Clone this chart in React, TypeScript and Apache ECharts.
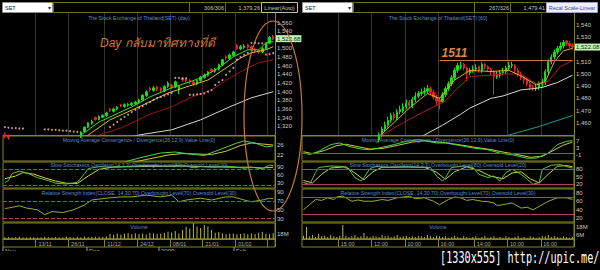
import React, { useEffect, useRef } from "react";
import * as echarts from "echarts";

// ---------------- data ----------------
// Left chart: daily bars [open, close, low, high]
const leftCandles = [
  [1302, 1296, 1292, 1306], [1298, 1293, 1289, 1301], [1295, 1289, 1285, 1299], [1289, 1292, 1286, 1296],
  [1292, 1287, 1283, 1295], [1288, 1284, 1280, 1291], [1284, 1280, 1276, 1287], [1280, 1276, 1271, 1284],
  [1277, 1281, 1273, 1285], [1281, 1275, 1270, 1283], [1275, 1270, 1266, 1278], [1270, 1274, 1266, 1278],
  [1274, 1268, 1264, 1277], [1268, 1264, 1260, 1271], [1264, 1269, 1261, 1273], [1269, 1265, 1261, 1272],
  [1265, 1270, 1262, 1274], [1270, 1276, 1267, 1279], [1276, 1281, 1273, 1284], [1281, 1287, 1278, 1290],
  [1287, 1294, 1284, 1297], [1295, 1307, 1293, 1309], [1308, 1318, 1305, 1320], [1318, 1328, 1316, 1330],
  [1327, 1332, 1324, 1335], [1340, 1336, 1333, 1343], [1336, 1342, 1334, 1345], [1341, 1345, 1339, 1348],
  [1345, 1351, 1342, 1354], [1360, 1356, 1353, 1362], [1355, 1360, 1352, 1363], [1360, 1364, 1357, 1367],
  [1370, 1367, 1364, 1372], [1366, 1370, 1363, 1373], [1368, 1371, 1365, 1374], [1370, 1373, 1367, 1376],
  [1372, 1376, 1369, 1379], [1375, 1381, 1372, 1384], [1381, 1392, 1379, 1394], [1391, 1400, 1388, 1403],
  [1408, 1404, 1400, 1411], [1403, 1409, 1400, 1413], [1411, 1406, 1402, 1414], [1408, 1402, 1398, 1410],
  [1402, 1412, 1399, 1415], [1412, 1420, 1409, 1424], [1416, 1410, 1406, 1418], [1411, 1423, 1408, 1426],
  [1405, 1412, 1395, 1415], [1431, 1427, 1423, 1434], [1429, 1425, 1421, 1432], [1426, 1422, 1418, 1429],
  [1423, 1418, 1414, 1426], [1418, 1426, 1415, 1428], [1426, 1434, 1423, 1436], [1433, 1439, 1430, 1442],
  [1438, 1446, 1435, 1448], [1452, 1448, 1444, 1454], [1447, 1452, 1444, 1455], [1452, 1462, 1449, 1465],
  [1462, 1474, 1459, 1476], [1481, 1478, 1474, 1484], [1477, 1485, 1474, 1488], [1484, 1492, 1481, 1495],
  [1507, 1500, 1497, 1510], [1499, 1504, 1496, 1508], [1502, 1506, 1499, 1510], [1508, 1503, 1499, 1511],
  [1504, 1498, 1494, 1507], [1499, 1494, 1490, 1502], [1496, 1492, 1488, 1499], [1492, 1500, 1489, 1503],
  [1500, 1512, 1497, 1514], [1512, 1526, 1510, 1529], [1528, 1522.68, 1519, 1531],
];
const leftLast = 1522.68;
const leftMaGreen = [[19, 1290], [21, 1300], [26, 1330], [35, 1365], [40, 1388], [46, 1409], [51, 1423], [54, 1432], [59, 1455], [63, 1481], [67, 1497], [70, 1497], [72, 1513], [74, 1516]];
const leftMaYellow = [[20, 1285], [23, 1300], [29, 1335], [37, 1365], [45, 1397], [50, 1411], [56, 1427], [61, 1455], [65, 1478], [68, 1490], [72, 1497], [74, 1504]];
const leftMaRed = [[20, 1282], [26, 1300], [32, 1316], [40, 1348], [46, 1365], [51, 1386], [57, 1404], [62, 1432], [67, 1455], [70, 1467], [74, 1474]];
const leftMaWhite = [[28, 1280], [37, 1300], [46, 1312], [54, 1335], [62, 1365], [68, 1386], [74, 1400]];
const leftSar = [
  [0, 1318], [1, 1317], [2, 1316], [3, 1316], [4, 1315], [5, 1315],
  [11, 1313], [12, 1313], [13, 1312], [14, 1312], [15, 1311], [16, 1310], [17, 1310], [18, 1309], [19, 1308], [20, 1307],
  [29, 1318], [30, 1324], [31, 1330], [32, 1336], [33, 1342], [34, 1347], [35, 1353], [36, 1358], [37, 1363], [38, 1367],
  [39, 1372], [40, 1376], [41, 1381], [42, 1385], [43, 1388], [44, 1391], [45, 1394], [46, 1397],
  [47, 1432], [48, 1432], [49, 1431], [50, 1431],
  [51, 1393], [52, 1393], [53, 1394], [54, 1395], [55, 1396], [56, 1400], [57, 1404], [58, 1416], [59, 1422], [60, 1427],
  [61, 1439], [62, 1447], [63, 1455], [64, 1474], [65, 1480], [66, 1485], [67, 1490],
  [68, 1513], [69, 1513], [70, 1512], [71, 1512], [72, 1486], [73, 1487], [74, 1489],
];
const leftMacd = [[0, 8], [10, 11], [20, 14], [28, 17], [33, 19.2], [37, 20.8], [43, 22.8], [47, 23.2], [51, 22.4], [55, 21.8], [59, 24], [64, 26.8], [66, 27.6], [69, 26.8], [72, 25.2], [74, 25.6]];
const leftMacdSignal = [[0, 9], [10, 10.5], [20, 12.5], [28, 15.5], [35, 19.0], [40, 20.5], [45, 22.0], [49, 22.6], [53, 22.4], [57, 22.2], [61, 23.5], [65, 25.8], [68, 26.8], [71, 26.4], [74, 26.0]];
const leftStochK = [[0, 30], [1, 38], [2, 64], [4, 73], [6, 67], [9, 49], [12, 38], [14, 28], [17, 25], [20, 31], [22, 64], [23, 83], [26, 90], [30, 88], [35, 92], [40, 95], [45, 92], [49, 96], [52, 86], [54, 90], [58, 88], [60, 92], [63, 90], [66, 84], [68, 88], [71, 82], [73, 96], [74, 94]];
const leftStochD = [[0, 45], [3, 55], [5, 68], [8, 62], [11, 48], [14, 36], [17, 28], [20, 27], [23, 55], [26, 80], [30, 89], [40, 91], [50, 92], [56, 90], [62, 88], [68, 88], [71, 85], [74, 88]];
const leftRsi = [[0, 53], [1, 54], [4, 59], [6, 54], [9, 50], [11, 39], [13, 46], [16, 44], [19, 50], [22, 61], [24, 72], [28, 76], [32, 79], [35, 79], [39, 83], [43, 79], [46, 83], [48, 68], [50, 72], [54, 76], [57, 72], [61, 79], [63, 79], [66, 72], [68, 68], [71, 72], [73, 76], [74, 75]];
const leftVolume = [
  6, 7, 5, 6, 8, 6, 5, 7, 6, 5, 6, 8, 6, 5, 7, 6, 6, 8, 7, 6, 8, 6, 9, 7, 8, 8, 9, 7, 9,
  18, 16, 20, 15, 19, 22, 17, 21, 18, 20, 16, 22,
  20, 18, 19, 22, 26, 24, 29, 20, 33, 44, 38, 57, 45, 40, 51, 45, 33, 23, 25, 20, 17, 19, 20, 17, 18, 20, 17, 20, 18, 23, 26, 19, 17, 21,
];
const leftDateTicks: [number, string][] = [[9, "13/11"], [18, "26/11"], [28, "11/12"], [37, "24/12"], [46, "08/01"], [55, "21/01"], [64, "01/02"]];
const leftGridIdx = [9, 18, 28, 37, 46, 55, 64, 73];
const leftMonths = ["Nov", "Dec", "2009", "Feb"];

// Right chart: 60-minute bars [open, close, low, high]
const rightCandles = [
  [1430, 1428, 1426, 1432], [1428, 1426, 1423, 1430], [1426, 1424, 1421, 1428], [1424, 1427, 1422, 1429],
  [1427, 1430, 1425, 1432], [1430, 1433, 1428, 1435], [1433, 1436, 1431, 1438], [1436, 1435, 1433, 1438],
  [1435, 1437, 1433, 1439], [1437, 1440, 1435, 1442], [1440, 1441, 1438, 1443], [1441, 1439, 1437, 1443],
  [1439, 1437, 1435, 1441], [1437, 1436, 1434, 1439], [1436, 1434, 1431, 1438], [1434, 1433, 1430, 1436],
  [1433, 1435, 1431, 1437], [1435, 1438, 1433, 1440], [1438, 1437, 1435, 1440], [1437, 1436, 1434, 1439],
  [1436, 1439, 1434, 1441], [1439, 1441, 1437, 1443], [1441, 1443, 1439, 1445], [1443, 1444, 1441, 1446],
  [1444, 1447, 1442, 1448], [1446, 1450, 1444, 1452], [1450, 1455, 1448, 1457], [1455, 1458, 1453, 1461],
  [1458, 1462, 1456, 1465], [1462, 1466, 1460, 1468], [1467, 1464, 1462, 1469], [1464, 1469, 1462, 1471],
  [1469, 1471, 1467, 1474], [1470, 1473, 1468, 1476], [1473, 1476, 1471, 1479], [1477, 1474, 1472, 1479],
  [1474, 1479, 1472, 1481], [1479, 1482, 1477, 1485], [1482, 1484, 1480, 1486], [1484, 1485, 1482, 1488],
  [1485, 1486, 1483, 1489], [1486, 1488, 1484, 1491], [1488, 1485, 1483, 1490], [1485, 1481, 1479, 1487],
  [1481, 1478, 1474, 1483], [1479, 1477, 1471, 1481], [1477, 1483, 1476, 1485], [1483, 1488, 1481, 1490],
  [1488, 1492, 1486, 1494], [1492, 1497, 1490, 1499], [1497, 1503, 1495, 1505], [1503, 1507, 1501, 1509],
  [1506, 1507, 1504, 1510], [1508, 1505, 1503, 1509], [1505, 1501, 1494, 1506], [1501, 1503, 1499, 1505],
  [1503, 1504, 1501, 1507], [1504, 1505, 1502, 1508], [1506, 1503, 1501, 1507], [1503, 1508, 1501, 1510],
  [1508, 1506, 1504, 1509], [1506, 1504, 1502, 1507], [1504, 1502, 1499, 1505], [1502, 1498, 1483, 1503],
  [1498, 1499, 1496, 1502], [1499, 1501, 1497, 1503], [1501, 1502, 1499, 1505], [1502, 1505, 1500, 1507],
  [1505, 1507, 1503, 1510], [1507, 1507.5, 1505, 1510], [1507, 1503, 1501, 1508], [1503, 1500, 1498, 1505],
  [1500, 1497, 1495, 1502], [1497, 1495, 1492, 1499], [1495, 1492, 1490, 1497], [1492, 1489, 1487, 1494],
  [1489, 1488, 1486, 1491], [1488, 1489, 1486, 1492], [1489, 1492, 1487, 1494], [1492, 1493, 1489, 1496],
  [1493, 1502, 1491, 1504], [1502, 1510, 1500, 1512], [1510, 1514, 1508, 1516], [1514, 1518, 1512, 1520],
  [1518, 1521, 1516, 1523], [1521, 1523, 1519, 1526], [1523, 1526, 1521, 1528], [1527, 1525, 1523, 1528],
  [1525, 1523, 1521, 1527], [1523.5, 1522.08, 1520, 1525],
];
const rightLast = 1522.08;
const rightLevel = 1511;
const rightLevelFrom = 45;
const rightMaWhite = [[30, 1438], [40, 1450], [46, 1458], [52, 1467], [55, 1472], [62, 1480], [66, 1482], [72, 1487], [76, 1488], [79, 1489], [84, 1493], [89, 1499]];
const rightMaTeal = [[60, 1444], [68, 1450], [78, 1457], [89, 1466]];
const rightMaRed = [[18, 1435], [26, 1450], [33, 1460], [39, 1468], [43, 1473], [47, 1478], [50, 1486], [55, 1498], [62, 1499], [66, 1500], [72, 1500], [77, 1492], [81, 1494], [85, 1506], [89, 1511]];
const rightMaYellow = [[20, 1440], [26, 1451], [35, 1472], [41, 1484], [45, 1480], [50, 1495], [55, 1503], [62, 1502], [68, 1503], [73, 1497], [77, 1491], [80, 1494], [83, 1510], [86, 1519], [89, 1521]];
const rightMacd = [[0, 0.2], [2, -0.8], [5, 1.0], [9, 4.8], [12, 5.7], [15, 3.8], [19, 2.3], [22, 1.9], [25, 2.9], [30, 4.8], [34, 6.6], [38, 7.6], [41, 6.6], [44, 5.7], [47, 5.7], [52, 4.2], [56, 2.9], [61, 1.9], [65, 0.0], [69, -0.9], [74, -2.8], [77, -2.8], [81, 0], [84, 4.8], [87, 6.6], [89, 7.0]];
const rightMacdSignal = [[0, 0.8], [3, -0.3], [7, 1.5], [11, 4.2], [14, 5.0], [18, 3.6], [22, 2.3], [26, 2.6], [31, 4.3], [36, 6.2], [40, 7.0], [43, 6.5], [47, 5.8], [52, 4.6], [57, 3.2], [62, 2.0], [66, 0.6], [70, -0.5], [75, -2.3], [79, -1.8], [83, 1.8], [86, 4.5], [89, 6.2]];
const rightStochK = [[0, 27], [2, 19], [4, 67], [5, 87], [9, 93], [13, 91], [15, 80], [17, 47], [19, 33], [20, 47], [22, 83], [24, 91], [28, 87], [32, 89], [35, 91], [39, 87], [42, 87], [44, 53], [46, 33], [47, 47], [49, 87], [53, 93], [56, 87], [58, 60], [61, 47], [63, 53], [65, 33], [67, 67], [69, 80], [72, 60], [74, 40], [76, 20], [78, 27], [79, 80], [82, 96], [85, 99], [88, 87], [89, 85]];
const rightStochD = [[0, 35], [3, 25], [6, 60], [9, 85], [14, 90], [17, 65], [20, 38], [23, 70], [26, 88], [33, 89], [40, 88], [44, 68], [47, 40], [50, 70], [54, 90], [58, 75], [62, 52], [66, 42], [69, 65], [72, 70], [75, 42], [78, 25], [81, 60], [84, 92], [87, 95], [89, 90]];
const rightRsi = [[0, 40], [2, 52], [4, 64], [6, 62], [8, 68], [10, 64], [11, 70], [13, 72], [16, 60], [18, 63], [20, 60], [23, 60], [26, 64], [28, 62], [31, 68], [33, 70], [35, 72], [37, 66], [40, 68], [43, 60], [45, 52], [48, 64], [50, 70], [52, 68], [54, 62], [56, 64], [59, 60], [61, 59], [63, 56], [64, 50], [66, 52], [69, 56], [72, 44], [74, 46], [76, 40], [78, 48], [81, 60], [84, 68], [87, 68], [89, 64]];
const rightVolume = [
  5, 18, 4, 6, 3, 8, 4, 5, 3, 6, 4, 3, 5, 21, 5, 3, 4, 6, 3, 4, 9, 4, 3, 5, 4, 3, 6, 4, 5, 3,
  4, 6, 3, 4, 5, 3, 4, 3, 5, 4, 3, 6, 4, 3, 5, 4, 3, 4, 2, 3, 5, 3, 2, 4, 3, 2, 3, 4, 2, 3,
  5, 2, 3, 4, 2, 3, 2, 4, 3, 2, 3, 5, 2, 3, 2, 4, 3, 2, 3, 5, 4, 6, 3, 4, 3, 2, 4, 3, 2, 3,
];
const rightDateTicks: [number, string][] = [[12, "15:00"], [23, "12:00"], [34, "10:00"], [45, "16:00"], [57, "14:00"], [68, "10:00"], [79, "16:00"]];
const rightGridIdx = [12, 23, 34, 45, 57, 68, 79];

// axis label values
const leftPriceTicks = [1320, 1340, 1360, 1380, 1400, 1420, 1440, 1460, 1480, 1500, 1540, 1560];
const rightPriceTicks = [1460, 1470, 1480, 1490, 1500, 1510, 1530, 1540];

// ---------------- styling / layout ----------------
const FONT = '"Liberation Sans", Arial, sans-serif';
const OLIVE = "#85851f";
const LABEL = "#c8c8c8";
const PINK = "#a8406a";
const TITLE = "#5a8ad0";
const UP = "#14e014";
const DOWN = "#f02020";

const gridTops = [13, 136, 162, 189, 223];
const gridHeights = [122, 25, 26, 33, 16];
const sideLeft = [3, 302];
const plotW = 272;

const fmtThousands = (v: number) => v.toLocaleString("en-US");

function buildOption() {
  const sides = [
    {
      cats: leftCandles.map((_, i) => String(i)),
      ticks: new Map(leftDateTicks),
      grid: new Set(leftGridIdx),
      price: { min: 1300, max: 1582, vals: leftPriceTicks },
      macd: { min: 19.6, max: 29.6, vals: [22, 26] },
      stoch: { min: 10, max: 107.6, vals: [30, 60, 90] },
      rsi: { min: 22.6, max: 96.7, vals: [30, 50, 70, 90] },
      vol: { min: 0, max: 58, vals: [18] },
    },
    {
      cats: rightCandles.map((_, i) => String(i)),
      ticks: new Map(rightDateTicks),
      grid: new Set(rightGridIdx),
      price: { min: 1450, max: 1550, vals: rightPriceTicks },
      macd: { min: -4.4, max: 9.6, vals: [-1, 3, 7] },
      stoch: { min: 5, max: 109, vals: [20, 50, 80] },
      rsi: { min: 11.3, max: 88.7, vals: [20, 40, 60, 80] },
      vol: { min: 0, max: 24, vals: [6, 18] },
    },
  ];

  const grid: any[] = [];
  const xAxis: any[] = [];
  const yAxis: any[] = [];
  sides.forEach((s, si) => {
    const ranges = [s.price, s.macd, s.stoch, s.rsi, s.vol];
    for (let p = 0; p < 5; p++) {
      const gi = si * 5 + p;
      grid.push({
        left: sideLeft[si], top: gridTops[p], width: plotW, height: gridHeights[p],
        show: p > 0, borderColor: OLIVE, borderWidth: 1, backgroundColor: "transparent",
      });
      const x: any = { type: "category", gridIndex: gi, data: s.cats, boundaryGap: true };
      if (p === 0) {
        Object.assign(x, {
          axisLine: { show: true, lineStyle: { color: OLIVE } },
          axisTick: { show: false }, axisLabel: { show: false },
          splitLine: { show: true, interval: (i: number) => s.grid.has(i), lineStyle: { color: "#353535", width: 1 } },
        });
      } else if (p === 4) {
        Object.assign(x, {
          axisLine: { show: true, lineStyle: { color: OLIVE } },
          axisTick: { show: true, interval: (i: number) => s.grid.has(i), length: 8, inside: false, lineStyle: { color: OLIVE } },
          axisLabel: {
            show: true, interval: (i: number) => s.ticks.has(i),
            formatter: (_v: string, i: number) => s.ticks.get(i) || "",
            color: "#a8a8a8", fontSize: 5.5, fontFamily: FONT, margin: 1.5, align: "left", padding: [0, 0, 0, 1],
          },
          splitLine: { show: false },
        });
      } else {
        x.show = false;
      }
      xAxis.push(x);
      const r = ranges[p];
      yAxis.push({
        type: "value", gridIndex: gi, position: "right", min: r.min, max: r.max,
        axisLine: { show: true, lineStyle: { color: OLIVE } },
        axisTick: { show: false }, splitLine: { show: false },
        axisLabel: {
          customValues: r.vals, color: LABEL, fontSize: 6, fontFamily: FONT, margin: 2,
          formatter: p === 0 ? (v: number) => fmtThousands(v) : p === 4 ? (v: number) => v + "M" : (v: number) => String(v),
        },
      });
    }
  });

  const line = (gi: number, data: number[][], color: string, extra: any = {}) => ({
    type: "line", xAxisIndex: gi, yAxisIndex: gi, data, symbol: "none", silent: true,
    lineStyle: { color, width: 1 }, itemStyle: { color }, clip: true, z: 3, ...extra,
  });
  const levels = (vals: number[], dashed: boolean) => ({
    silent: true, symbol: ["none", "none"], label: { show: false },
    lineStyle: { color: PINK, width: 1, type: dashed ? "dashed" : "solid" },
    data: vals.map((v) => ({ yAxis: v })),
  });
  const priceBox = (v: number, text: string) => ({
    silent: true, symbol: ["none", "none"], lineStyle: { color: "transparent", width: 1 },
    label: {
      show: true, position: "end", formatter: text, backgroundColor: "#c2f2b8", color: "#0c2a0c",
      fontSize: 6, fontFamily: FONT, padding: [1, 1, 0, 1], distance: 1,
    },
    data: [{ yAxis: v }],
  });
  const candleStyle = { color: UP, color0: DOWN, borderColor: UP, borderColor0: DOWN, borderWidth: 1 };

  const series: any[] = [
    // ---- left
    { type: "candlestick", xAxisIndex: 0, yAxisIndex: 0, data: leftCandles, barWidth: 2, itemStyle: candleStyle, clip: true, silent: true, z: 2, markLine: priceBox(leftLast, "1,522.68") },
    line(0, leftMaWhite, "#d4d4d4"),
    line(0, leftMaRed, "#9a1414"),
    line(0, leftMaYellow, "#d0c020"),
    line(0, leftMaGreen, "#30e030"),
    { type: "scatter", xAxisIndex: 0, yAxisIndex: 0, data: leftSar, symbol: "circle", symbolSize: 2, itemStyle: { color: "#eab8b8" }, silent: true, clip: true, z: 4 },
    line(1, leftMacdSignal, "#c8c840"),
    line(1, leftMacd, "#50d050"),
    line(2, leftStochD, "#d0d040", { markLine: levels([80, 20], true) }),
    line(2, leftStochK, "#60c030"),
    line(3, leftRsi, "#90b030", { markLine: levels([70, 30], true) }),
    { type: "bar", xAxisIndex: 4, yAxisIndex: 4, data: leftVolume, barWidth: 1, itemStyle: { color: "#b8b838" }, silent: true },
    // ---- right
    { type: "candlestick", xAxisIndex: 5, yAxisIndex: 5, data: rightCandles, barWidth: 1.8, itemStyle: candleStyle, clip: true, silent: true, z: 2, markLine: priceBox(rightLast, "1,522.08") },
    line(5, rightMaWhite, "#d8d8d8"),
    line(5, rightMaTeal, "#1a9a9a"),
    line(5, rightMaRed, "#b01818"),
    line(5, rightMaYellow, "#d8b020", {
      markLine: {
        silent: true, symbol: ["none", "none"],
        lineStyle: { color: "#c87848", width: 1, type: "solid" },
        label: {
          show: true, position: "insideStartTop", formatter: String(rightLevel), color: "#d8884a",
          fontSize: 12, fontStyle: "italic", fontWeight: "bold", fontFamily: FONT, distance: 2,
        },
        data: [[{ coord: [rightLevelFrom, rightLevel] }, { coord: [rightCandles.length - 1, rightLevel] }]],
      },
    }),
    line(6, rightMacdSignal, "#c8c840", { markLine: levels([0], false) }),
    line(6, rightMacd, "#50d050"),
    line(7, rightStochD, "#d0d040", { markLine: levels([80, 20], false) }),
    line(7, rightStochK, "#60c030"),
    line(8, rightRsi, "#90b030", { markLine: levels([70, 30], false) }),
    { type: "bar", xAxisIndex: 9, yAxisIndex: 9, data: rightVolume, barWidth: 1, itemStyle: { color: "#b8b838" }, silent: true },
  ];

  // ---- graphic: toolbars, titles, annotation
  const txt = (x: number, y: number, text: string, o: any = {}) => ({
    type: "text", x, y, z: o.z || 20, silent: true,
    scaleX: o.scaleX || 1,
    style: {
      text, fill: o.fill || "#c0c0c0", fontSize: o.size || 5.5, fontFamily: o.family || FONT,
      fontStyle: o.style || "normal", fontWeight: o.weight || "normal",
      textAlign: o.align || "left", align: o.align || "left",
      textVerticalAlign: o.va || "middle", verticalAlign: o.va || "middle",
    },
  });
  const box = (x: number, y: number, w: number, h: number, fill: string, stroke: string, z = 18) => ({
    type: "rect", z, silent: true, shape: { x, y, width: w, height: h }, style: { fill, stroke, lineWidth: 1 },
  });

  const g: any[] = [];
  // left toolbar
  g.push(box(2.5, 2.5, 50, 10, "#ffffff", "#909090"));
  g.push(txt(5, 7.5, "SET", { fill: "#202020", size: 5.5 }));
  g.push(txt(49, 7.5, "▾", { fill: "#303030", size: 6, align: "center" }));
  g.push(box(53.5, 2.5, 136, 10, "#000000", "#6e6e1c"));
  g.push(box(189.5, 2.5, 36, 10, "#000000", "#6e6e1c"));
  g.push(txt(224, 7.5, "306/306", { align: "right" }));
  g.push(box(225.5, 2.5, 36, 10, "#000000", "#6e6e1c"));
  g.push(txt(260, 7.5, "1,379.26", { align: "right" }));
  g.push(box(261.5, 2.5, 36, 10, "#000000", "#c0c0a0"));
  g.push(txt(279.5, 7.5, "Linear(Auto)", { align: "center" }));
  // right toolbar
  g.push(box(302.5, 2.5, 50, 10, "#ffffff", "#909090"));
  g.push(txt(305, 7.5, "SET", { fill: "#202020", size: 5.5 }));
  g.push(txt(349, 7.5, "▾", { fill: "#303030", size: 6, align: "center" }));
  g.push(box(353.5, 2.5, 121, 10, "#000000", "#6e6e1c"));
  g.push(box(474.5, 2.5, 36, 10, "#000000", "#6e6e1c"));
  g.push(txt(509, 7.5, "267/326", { align: "right" }));
  g.push(box(510.5, 2.5, 36, 10, "#000000", "#6e6e1c"));
  g.push(txt(545, 7.5, "1,479.41", { align: "right" }));
  g.push(box(546.5, 2.5, 51, 10, "#eeeef6", "#a0a0c0"));
  g.push(txt(572, 7.5, "Recal Scale-Linear", { align: "center", fill: "#2a48c8" }));

  // titles
  const titles = [
    ["The Stock Exchange of Thailand(SET) (day)", "The Stock Exchange of Thailand(SET) [60]"],
    ["Moving Average Convergence / Divergence(26,12,9),Value Line(0)", "Moving Average Convergence / Divergence(26,12,9),Value Line(0)"],
    ["Slow Stochastics Oscillator(14,3,3),Overbought Level(80),Oversold Level(20)", "Slow Stochastics Oscillator(14,3,3),Overbought Level(80),Oversold Level(20)"],
    ["Relative Strength Index(CLOSE, 14,30,70),Overbought Level(70),Oversold Level(30)", "Relative Strength Index(CLOSE, 14,30,70),Overbought Level(70),Oversold Level(30)"],
    ["Volume", "Volume"],
  ];
  const titleY = [17.5, 139.5, 165, 192.5, 226.5];
  titles.forEach((pair, p) => {
    pair.forEach((t, si) => {
      g.push(txt(sideLeft[si] + plotW / 2, titleY[p], t, { align: "center", fill: TITLE, size: 5.2 }));
    });
  });

  // date strips
  g.push({ type: "rect", z: 15, silent: true, shape: { x: 3, y: 239, width: plotW, height: 8 }, style: { fill: "transparent", stroke: OLIVE, lineWidth: 1 } });
  g.push({ type: "rect", z: 15, silent: true, shape: { x: 302, y: 239, width: plotW, height: 8 }, style: { fill: "transparent", stroke: OLIVE, lineWidth: 1 } });
  // month row (cut off at the bottom)
  const monthX = [5, 89, 161, 236];
  leftMonths.forEach((m, k) => {
    g.push({ type: "line", z: 20, silent: true, shape: { x1: monthX[k] - 2, y1: 247, x2: monthX[k] - 2, y2: 252 }, style: { stroke: "#a0a0a0", lineWidth: 1 } });
    g.push(txt(monthX[k], 248, m, { va: "top", size: 6, fill: "#b0b0b0" }));
  });
  g.push({ type: "rect", z: 40, silent: true, shape: { x: 0, y: 251, width: 600, height: 19 }, style: { fill: "#000000" } });

  // annotation
  g.push(txt(100, 43, "Day กลับมาทิศทางที่ดี", { fill: "#d07a30", size: 12, style: "italic", z: 60 }));
  g.push({ type: "ellipse", z: 70, silent: true, shape: { cx: 273, cy: 116, rx: 29, ry: 95 }, style: { fill: "transparent", stroke: "#c87838", lineWidth: 1.2 } });

  // watermark
  g.push(txt(440, 258, "[1330x555] http://upic.me/", { fill: "#ffffff", size: 15, family: '"DejaVu Sans Mono", monospace', scaleX: 0.68, z: 80 }));

  return {
    animation: false,
    backgroundColor: "#000000",
    textStyle: { fontFamily: FONT },
    grid, xAxis, yAxis, series, graphic: g,
  };
}

export default function App() {
  const ref = useRef<HTMLDivElement>(null);
  useEffect(() => {
    if (!ref.current) return;
    const chart = echarts.init(ref.current, undefined, { renderer: "svg" });
    chart.setOption(buildOption() as any);
    return () => chart.dispose();
  }, []);
  return (
    <div
      ref={ref}
      style={{ position: "fixed", left: 0, top: 0, width: 600, height: 270, background: "#000" }}
    />
  );
}
